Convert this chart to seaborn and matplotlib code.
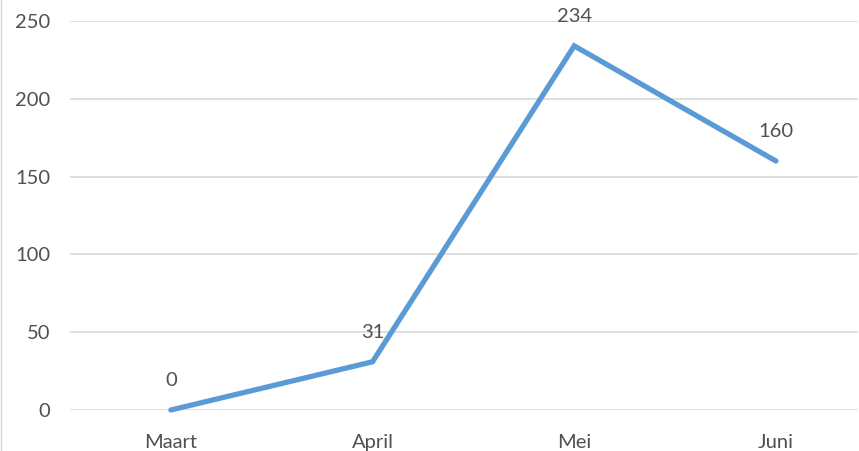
import matplotlib
matplotlib.use("Agg")
import matplotlib.pyplot as plt
import seaborn as sns
import pandas as pd
from matplotlib.lines import Line2D

months = ["Maart", "April", "Mei", "Juni"]
values = [0, 31, 234, 160]
yticks = [0, 50, 100, 150, 200, 250]

sns.set_theme(style="white")
plt.rcParams['font.family'] = ['Lato', 'DejaVu Sans']

W, H = 859, 451
fig = plt.figure(figsize=(W / 100, H / 100), dpi=100)
ax = fig.add_axes([70 / W, (H - 410) / H, (858 - 70) / W, (410 - 21) / H])

df = pd.DataFrame({"month": months, "value": values})
df["pos"] = range(len(months))
sns.lineplot(data=df, x="pos", y="value", ax=ax, color="#5B9BD5", linewidth=3.8,
             sort=False, solid_capstyle="round", solid_joinstyle="miter", clip_on=False, zorder=3)

text_color = "#505050"
fs = 14.5
for i, v in enumerate(values):
    ax.annotate(str(v), (i, v), xytext=(0, 21), textcoords="offset points",
                ha="center", va="center", fontsize=fs, color=text_color)

ax.set_xlim(-0.5, -0.5 + (858 - 70) / 201.7)
ax.set_ylim(0, 250)
ax.set_yticks(yticks)
ax.set_xticks(range(len(months)))
ax.set_xticklabels(months)
ax.grid(axis="y", color="#D9D9D9", linewidth=1.2)
ax.set_axisbelow(True)
for s in ax.spines.values():
    s.set_visible(False)
ax.tick_params(axis="both", length=0, labelsize=fs, labelcolor=text_color)
ax.tick_params(axis="y", pad=14)
ax.tick_params(axis="x", pad=17)
ax.set_xlabel("")
ax.set_ylabel("")

fig.add_artist(Line2D([0.5 / W, 0.5 / W], [0, 1], transform=fig.transFigure,
                      color="#D9D9D9", linewidth=1))

fig.savefig("out.png", dpi=100)
